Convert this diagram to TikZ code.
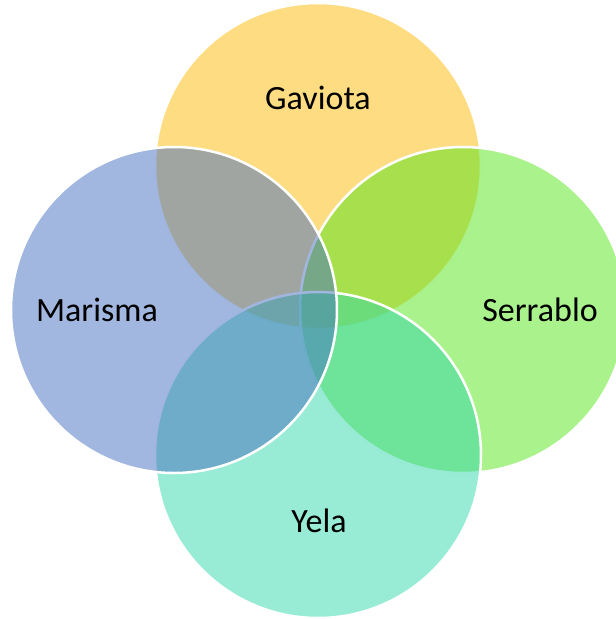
\documentclass[tikz,border=0pt]{standalone}
\usepackage{fontspec}
\setmainfont{Carlito}
\definecolor{cyellow}{RGB}{251,185,5}
\definecolor{cgreen}{RGB}{85,229,25}
\definecolor{cteal}{RGB}{49,215,169}
\definecolor{cblue}{RGB}{69,111,193}
\begin{document}
\begin{tikzpicture}[x=1pt,y=-1pt,
  venn/.style={circle,minimum size=326pt,inner sep=0pt,draw=white,line width=2.5pt,fill opacity=0.5,text opacity=1},
  lbl/.style={font=\fontsize{34}{38}\selectfont,text=black}]
\useasboundingbox (0,0) rectangle (616,619);
\clip (0,0) rectangle (616,619);
\node[venn,fill=cyellow] (top) at (318,166) {};
\node[venn,fill=cgreen] (right) at (463,310) {};
\node[venn,fill=cteal] (bottom) at (318,455) {};
\node[venn,fill=cblue] (left) at (174,310) {};
\node[lbl] (tg) at (318,98) {Gaviota};
\node[lbl] (tm) at (97,310) {Marisma};
\node[lbl] (ts) at (540,310) {Serrablo};
\node[lbl] (ty) at (319,521) {Yela};
\end{tikzpicture}
\end{document}
